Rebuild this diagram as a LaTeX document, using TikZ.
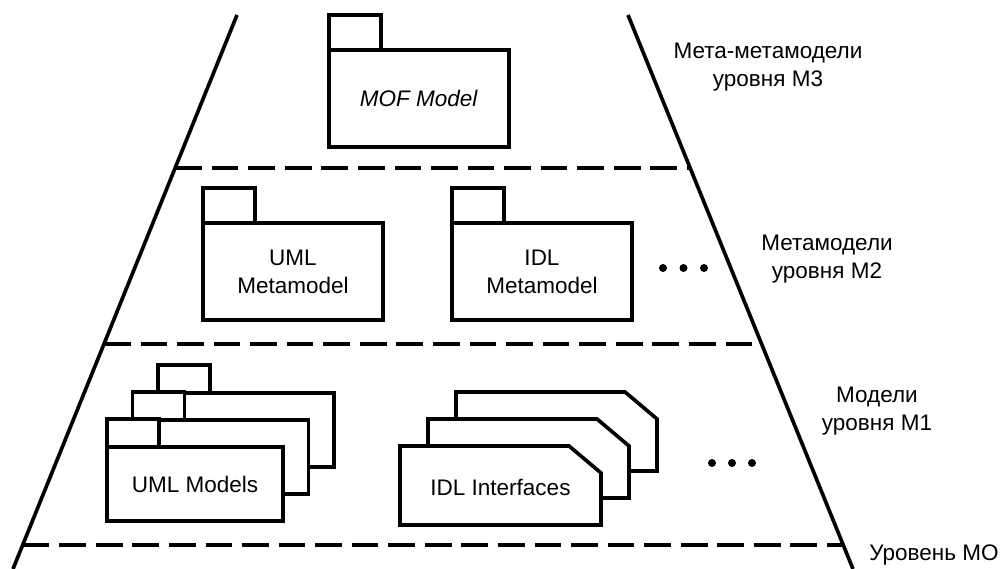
\documentclass[tikz,border=0pt]{standalone}
\usepackage{fontspec}
\setmainfont{Liberation Sans}
\usetikzlibrary{calc}

\begin{document}
\begin{tikzpicture}[
                x=0.025cm, y=-0.025cm,
                every node/.style={font=\fontsize{16}{20}\selectfont},
                sideline/.style={line width=2.6pt, draw=black},
                levelline/.style={line width=2.6pt, draw=black, dash pattern=on 19pt off 7pt},
                pkgbody/.style={rectangle, draw=black, line width=2.6pt, fill=white, inner sep=0pt, outer sep=0pt, align=center, minimum width=4.5cm, minimum height=2.425cm},
                pkgtab/.style={rectangle, draw=black, line width=2.6pt, fill=white, inner sep=0pt, outer sep=0pt, anchor=south west, minimum width=1.3cm, minimum height=0.875cm},
                modelbody/.style={pkgbody, minimum width=4.4cm, minimum height=1.85cm},
                modeltab/.style={pkgtab, minimum height=0.7cm},
                ifcframe/.style={rectangle, inner sep=0pt, outer sep=0pt, minimum width=5.025cm, minimum height=1.975cm},
                levellabel/.style={align=center},
                dot/.style={circle, fill=black, inner sep=0pt, minimum size=0.2cm}
            ]
                \useasboundingbox (0,0) rectangle (1002,569);

                % Pyramid sides
                \coordinate (lt) at (237,15);
                \coordinate (lb) at (13,569);
                \coordinate (rt) at (628,15);
                \coordinate (rb) at (853,569);
                \draw[sideline] (lt) -- (lb);
                \draw[sideline] (rt) -- (rb);

                % Level borders
                \path (lt) -- (lb) coordinate[pos=0.2762] (l1) coordinate[pos=0.5939] (l2) coordinate[pos=0.9567] (l3);
                \path (rt) -- (rb) coordinate[pos=0.2762] (r1) coordinate[pos=0.5939] (r2) coordinate[pos=0.9567] (r3);
                \foreach \i in {1,2,3} {
                    \draw[levelline] (l\i) -- (r\i);
                }

                % M3
                \node[pkgbody] (mof) at (419,98.5) {\textit{MOF Model}};
                \node[pkgtab] (moftab) at (mof.north west) {};

                % M2
                \node[pkgbody] (umlmeta) at (293,271.5) {UML\\Metamodel};
                \node[pkgtab] (umlmetatab) at (umlmeta.north west) {};
                \node[pkgbody] (idlmeta) at (542,271.5) {IDL\\Metamodel};
                \node[pkgtab] (idlmetatab) at (idlmeta.north west) {};
                \foreach \i in {0,1,2} {
                    \node[dot] (mdot\i) at ({663+20.5*\i},268) {};
                }

                % M1: stacked packages
                \foreach \k in {2,1} {
                    \node[modelbody] (umlm\k) at ({195+25.5*\k},{484-27*\k}) {};
                    \node[modeltab] (umlmtab\k) at (umlm\k.north west) {};
                }
                \node[modelbody] (umlm0) at (195,484) {UML Models};
                \node[modeltab] (umlmtab0) at (umlm0.north west) {};

                % M1: stacked interfaces
                \foreach \k in {2,1,0} {
                    \node[ifcframe] (idl\k) at ({500.5+28*\k},{485.5-27*\k}) {};
                    \draw[sideline, fill=white] (idl\k.south west) -- (idl\k.north west)
                        -- ($(idl\k.north east)+(-32,0)$) -- ($(idl\k.north east)+(0,27)$)
                        -- (idl\k.south east) -- cycle;
                }
                \node (idltext) at ($(idl0.center)+(0,2)$) {IDL Interfaces};
                \foreach \i in {0,1,2} {
                    \node[dot] (idot\i) at ({712+20*\i},463) {};
                }

                % Level names
                \node[levellabel] (lblm3) at (768,67) {Мета-метамодели\\уровня М3};
                \node[levellabel] (lblm2) at (827,259) {Метамодели\\уровня М2};
                \node[levellabel] (lblm1) at (877,411) {Модели\\уровня М1};
                \node[levellabel] (lblm0) at (934,555) {Уровень МО};
            \end{tikzpicture}
\end{document}
